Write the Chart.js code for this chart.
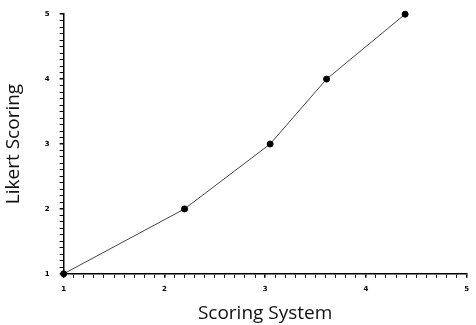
<!DOCTYPE html>
<html>
<head>
<meta charset="utf-8">
<script src="https://cdn.jsdelivr.net/npm/chart.js@4/dist/chart.umd.min.js"></script>
<style>
  html, body { margin: 0; padding: 0; background: #fff; }
  #wrap { width: 476px; height: 325px; }
</style>
</head>
<body>
<div id="wrap"><canvas id="chart"></canvas></div>
<script>
// scoring system vs likert
const scoringSystem = [1, 2.2, 3.05, 3.61, 4.39];
const likertScoring = [1, 2, 3, 4, 5];
const majorTicks = [1, 2, 3, 4, 5];

const isMajor = v => majorTicks.some(t => Math.abs(t - v) < 1e-6);

const axisCommon = {
    type: 'linear',
    min: 1,
    max: 5,
    border: { color: '#000', width: 1.5 },
    grid: {
        drawOnChartArea: false,
        drawTicks: true,
        tickLength: 4,
        color: '#000',
        lineWidth: ctx => isMajor(ctx.tick.value) ? 1.5 : 1
    },
    ticks: {
        stepSize: 0.1,
        autoSkip: false,
        maxRotation: 0,
        color: '#000',
        padding: 4,
        font: { family: 'DejaVu Sans', size: 7, weight: 'bold' },
        callback: v => isMajor(v) ? String(Math.round(v)) : ''
    }
};

new Chart(document.getElementById('chart').getContext('2d'), {
    type: 'scatter',
    data: {
        datasets: [{
            data: scoringSystem.map((x, i) => ({ x: x, y: likertScoring[i] })),
            showLine: true,
            borderColor: '#444',
            borderWidth: 1,
            pointRadius: 3,
            pointBackgroundColor: '#000',
            pointBorderColor: '#000',
            clip: false
        }]
    },
    options: {
        responsive: true,
        maintainAspectRatio: false,
        animation: false,
        layout: { padding: { top: 8, right: 0, left: 2, bottom: 0 } },
        plugins: {
            legend: { display: false },
            tooltip: { enabled: false }
        },
        scales: {
            x: {
                ...axisCommon,
                ticks: { ...axisCommon.ticks, padding: 7 },
                title: {
                    display: true,
                    text: 'Scoring System',
                    color: '#111',
                    font: { family: 'Open Sans', size: 19 },
                    padding: { top: 2, bottom: 0 }
                }
            },
            y: {
                ...axisCommon,
                ticks: { ...axisCommon.ticks, padding: 10 },
                title: {
                    display: true,
                    text: 'Likert Scoring',
                    color: '#111',
                    font: { family: 'Open Sans', size: 19 },
                    padding: { top: 0, bottom: 10 }
                }
            }
        }
    }
});
</script>
</body>
</html>
